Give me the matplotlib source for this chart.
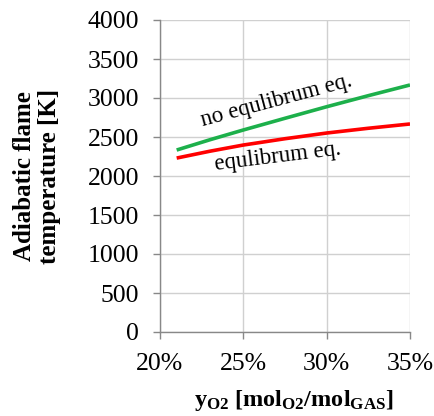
import matplotlib
matplotlib.use("Agg")
import matplotlib.pyplot as plt
from matplotlib.ticker import FuncFormatter

x_vals = [0.21, 0.23, 0.25, 0.275, 0.30, 0.325, 0.35]
no_eq = [2333, 2465, 2590, 2740, 2888, 3030, 3167]
eq = [2230, 2318, 2397, 2478, 2551, 2612, 2667]
yticks = [0, 500, 1000, 1500, 2000, 2500, 3000, 3500, 4000]
xticks = [0.20, 0.25, 0.30, 0.35]

plt.rcParams['font.family'] = ['Liberation Serif']
plt.rcParams['mathtext.fontset'] = 'custom'
plt.rcParams['mathtext.rm'] = 'Liberation Serif'
plt.rcParams['mathtext.bf'] = 'Liberation Serif:bold'
plt.rcParams['mathtext.it'] = 'Liberation Serif:italic'

fig = plt.figure(figsize=(4.35, 4.16), dpi=100)
ax = fig.add_axes([160/435, 1-332/416, 250/435, 312/416])

ax.plot(x_vals, no_eq, color='#1DB04B', lw=2.6, solid_capstyle='butt')
ax.plot(x_vals, eq, color='#FF0000', lw=2.6, solid_capstyle='butt')

ax.set_xlim(0.20, 0.35)
ax.set_ylim(0, 4000)
ax.set_xticks(xticks)
ax.set_yticks(yticks)
ax.xaxis.set_major_formatter(FuncFormatter(lambda v, p: f"{v*100:.0f}%"))
ax.grid(True, color='#D0D0D0', lw=1)
ax.set_axisbelow(True)
for s in ['top', 'right']:
    ax.spines[s].set_visible(False)
for s in ['left', 'bottom']:
    ax.spines[s].set_color('#888888')
    ax.spines[s].set_linewidth(1)
ax.tick_params(axis='both', colors='#888888', labelcolor='black', labelsize=18.5, length=5, width=1)
ax.tick_params(axis='x', pad=10)
ax.tick_params(axis='y', pad=10)

ax.set_ylabel("Adiabatic flame\ntemperature [K]", fontsize=18, fontweight='bold', linespacing=1.15,
              ha='center', va='center')
ax.yaxis.set_label_coords(-0.492, 0.5)
ax.set_xlabel(r"$\mathbf{y_{O2}\ [mol_{O2}/mol_{GAS}]}$", fontsize=17.5, ha='center', va='center')
ax.xaxis.set_label_coords(0.536, -0.218)

ax.text(0.2698, 2960, "no equlibrum eq.", rotation=15, fontsize=16.5, ha='center', va='center')
ax.text(0.2705, 2240, "equlibrum eq.", rotation=7, fontsize=16.5, ha='center', va='center')

fig.savefig("out.png", dpi=100)
